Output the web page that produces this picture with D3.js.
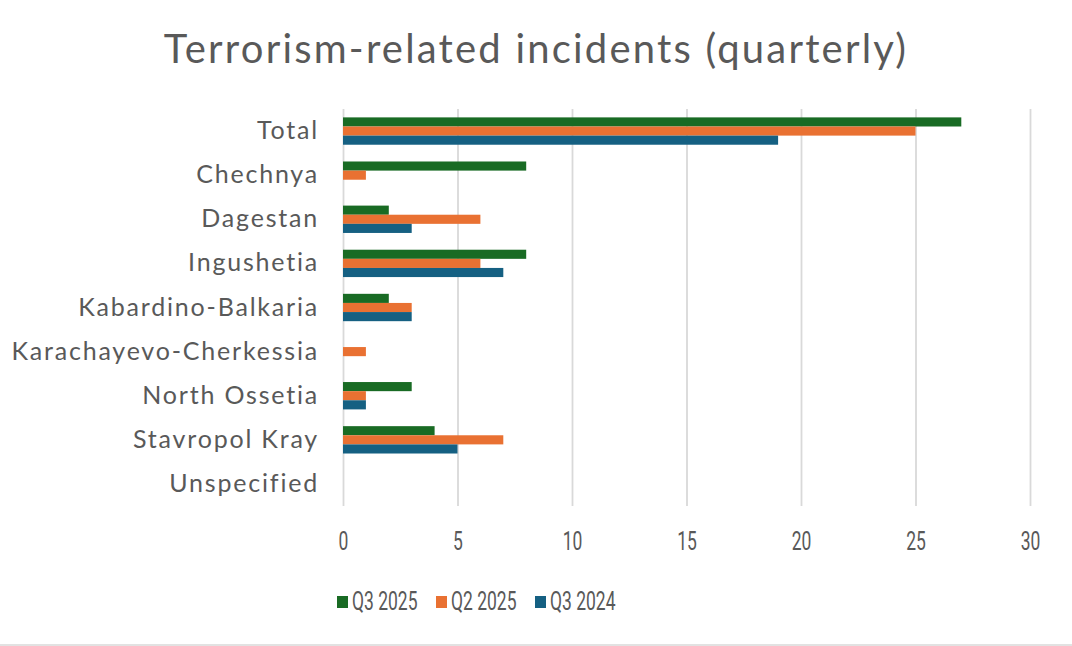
<!DOCTYPE html>
<html><head><meta charset="utf-8">
<script src="https://cdn.jsdelivr.net/npm/d3@7"></script>
<style>html,body{margin:0;padding:0;background:#fff;}svg{display:block;}</style>
</head><body>
<svg id="c" width="1072" height="646"></svg>
<script>
const categories = ["Total","Chechnya","Dagestan","Ingushetia","Kabardino-Balkaria","Karachayevo-Cherkessia","North Ossetia","Stavropol Kray","Unspecified"];
const seriesNames = ["Q3 2025","Q2 2025","Q3 2024"];
const q3_2025 = [27,8,2,8,2,0,3,4,0];
const q2_2025 = [25,1,6,6,3,1,1,7,0];
const q3_2024 = [19,0,3,7,3,0,1,5,0];
const tickValues = [0,5,10,15,20,25,30];
const colors = ["#196B24","#E97132","#156082"];
const seriesValues = [q3_2025,q2_2025,q3_2024];

const svg = d3.select("#c");
const W = 1072, H = 646;
const m = {left:343, right:42, top:109, bottom:140};
const x = d3.scaleLinear().domain([0,30]).range([m.left, W-m.right]);
const y = d3.scaleBand().domain(categories).range([m.top, H-m.bottom]).paddingInner(0.38).paddingOuter(0.19);
const ys = d3.scaleBand().domain(seriesNames).range([0, y.bandwidth()]);
const narrowFont = "'Liberation Sans Narrow', Roboto, 'Noto Sans', sans-serif";
const labelFont = "Lato, 'Noto Sans', sans-serif";

svg.append("rect").attr("width",W).attr("height",H).attr("fill","#fff");
svg.append("line").attr("x1",0).attr("x2",W).attr("y1",H-1).attr("y2",H-1).attr("stroke","#d9d9d9").attr("stroke-width",1.5);

svg.append("text").attr("x",536).attr("y",63).attr("text-anchor","middle")
  .attr("font-family",labelFont).attr("font-size",40).attr("letter-spacing",2.2).attr("fill","#595959")
  .text("Terrorism-related incidents (quarterly)");

// gridlines
const gx = svg.append("g").attr("transform",`translate(0,${H-m.bottom})`)
  .call(d3.axisBottom(x).tickValues(tickValues).tickSize(-(H-m.bottom-m.top)).tickPadding(26));
gx.select(".domain").remove();
gx.selectAll(".tick line").attr("stroke","#d9d9d9").attr("stroke-width",1.8);
gx.selectAll(".tick text").attr("font-family",narrowFont)
  .attr("font-size",25).attr("fill","#595959").attr("transform","scale(0.7,1)");

// bars
seriesNames.forEach((s,i)=>{
  svg.append("g").selectAll("rect").data(categories).join("rect")
    .attr("x", x(0)).attr("y", d => y(d)+ys(s))
    .attr("width", (d,j) => x(seriesValues[i][j]) - x(0))
    .attr("height", ys.bandwidth())
    .attr("fill", colors[i]);
});

// category axis
const gy = svg.append("g").attr("transform",`translate(${m.left},0)`)
  .call(d3.axisLeft(y).tickSize(0).tickPadding(24));
gy.select(".domain").remove();
gy.selectAll(".tick text").attr("font-family",labelFont)
  .attr("font-size",25).attr("letter-spacing",1.8).attr("fill","#595959");

// legend
const legX = [337,436,535];
const leg = svg.append("g");
seriesNames.forEach((s,i)=>{
  leg.append("rect").attr("x",legX[i]).attr("y",596).attr("width",11).attr("height",12).attr("fill",colors[i]);
  leg.append("g").attr("transform",`translate(${legX[i]+15},610)`)
    .append("text").attr("transform","scale(0.7,1)")
    .attr("font-family",narrowFont)
    .attr("font-size",25).attr("fill","#595959").text(s);
});
</script>
</body></html>
